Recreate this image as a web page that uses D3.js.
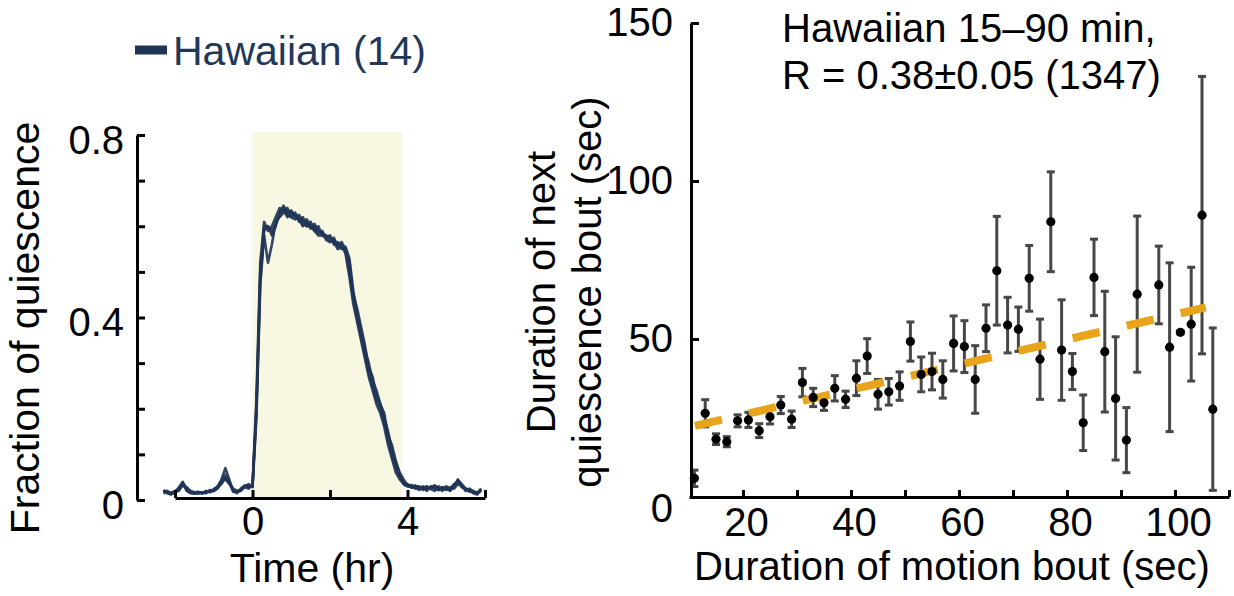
<!DOCTYPE html>
<html><head><meta charset="utf-8">
<script src="https://cdn.jsdelivr.net/npm/d3@7"></script>
<style>
body{margin:0;background:#fff;}
text{font-family:"Liberation Sans",Arial,Helvetica,sans-serif;}
</style>
</head><body>
<svg id="c" width="1234" height="596"></svg>
<script>
// ---------- Left panel data ----------
const timeHr = [-2.3,-2.2,-2.1,-2.0,-1.9,-1.8,-1.7,-1.6,-1.5,-1.4,-1.3,-1.2,-1.1,-1.0,-0.9,-0.8,-0.7,-0.6,-0.5,-0.4,-0.3,-0.2,-0.1,
 0.0,0.1,0.2,0.3,0.4,0.5,0.6,0.7,0.8,0.9,1.0,1.1,1.2,1.3,1.4,1.5,1.6,1.7,1.8,1.9,2.0,2.1,2.2,2.3,2.4,2.5,2.6,2.7,2.8,2.9,
 3.0,3.1,3.2,3.3,3.4,3.5,3.6,3.7,3.8,3.9,4.0,4.1,4.2,4.3,4.4,4.5,4.6,4.7,4.8,4.9,5.0,5.1,5.2,5.3,5.4,5.5,5.6,5.7,5.8,5.9];
const traceA = [0.02,0.015,0.012,0.018,0.025,0.038,0.022,0.015,0.014,0.016,0.015,0.018,0.02,0.022,0.03,0.045,0.07,0.045,0.02,0.015,0.025,0.032,0.028,
 0.03,0.2,0.5,0.6,0.6,0.58,0.6,0.63,0.645,0.63,
 0.635,0.62,0.625,0.61,0.615,0.6,0.605,0.59,0.585,0.58,
 0.575,0.57,0.56,0.565,0.55,0.5,0.44,0.4,0.36,0.32,
 0.28,0.25,0.22,0.2,0.17,0.13,0.1,0.07,0.05,0.04,
 0.035,0.03,0.025,0.028,0.022,0.025,0.03,0.025,0.022,0.028,
 0.025,0.02,0.03,0.042,0.03,0.022,0.02,0.015,0.012,0.025];
const traceB = [0.018,0.02,0.014,0.016,0.022,0.032,0.025,0.018,0.016,0.014,0.017,0.016,0.019,0.024,0.028,0.035,0.05,0.038,0.022,0.018,0.02,0.03,0.035,
 0.028,0.18,0.47,0.58,0.52,0.56,0.61,0.62,0.63,0.64,
 0.62,0.63,0.61,0.62,0.6,0.61,0.59,0.6,0.58,0.575,
 0.58,0.56,0.565,0.55,0.555,0.53,0.46,0.41,0.37,0.33,
 0.3,0.26,0.24,0.21,0.18,0.15,0.11,0.08,0.055,0.035,
 0.03,0.028,0.032,0.025,0.03,0.02,0.028,0.032,0.026,0.02,
 0.03,0.025,0.035,0.04,0.028,0.025,0.018,0.02,0.015,0.02];
const traceC = [0.015,0.018,0.016,0.02,0.02,0.035,0.028,0.02,0.017,0.018,0.014,0.02,0.017,0.02,0.025,0.04,0.045,0.035,0.025,0.02,0.022,0.028,0.025,
 0.032,0.22,0.52,0.61,0.59,0.6,0.62,0.64,0.635,0.62,
 0.63,0.625,0.615,0.6,0.61,0.595,0.6,0.585,0.59,0.57,
 0.565,0.575,0.555,0.56,0.54,0.49,0.43,0.39,0.35,0.31,
 0.27,0.24,0.21,0.19,0.16,0.12,0.09,0.06,0.045,0.035,
 0.03,0.033,0.028,0.022,0.027,0.03,0.024,0.02,0.03,0.025,
 0.022,0.028,0.025,0.035,0.032,0.02,0.025,0.018,0.014,0.022];
const traceD = [0.022,0.016,0.013,0.017,0.028,0.04,0.02,0.016,0.015,0.017,0.016,0.015,0.022,0.02,0.027,0.04,0.055,0.04,0.018,0.017,0.023,0.03,0.03,
 0.03,0.19,0.48,0.59,0.6,0.59,0.605,0.625,0.64,0.625,
 0.62,0.615,0.62,0.605,0.6,0.6,0.59,0.58,0.58,0.575,
 0.57,0.565,0.55,0.555,0.545,0.52,0.45,0.42,0.38,0.34,
 0.29,0.27,0.23,0.21,0.19,0.14,0.12,0.085,0.06,0.045,
 0.032,0.027,0.03,0.03,0.025,0.028,0.026,0.03,0.022,0.027,
 0.028,0.022,0.03,0.045,0.035,0.025,0.022,0.017,0.016,0.024];
const lightPeriodHr = [0, 3.85];
const leftXTicks = [-2, 0, 2, 4, 6];
const leftXLabels = [0, 4];
const leftYTicks = [0, 0.1, 0.2, 0.3, 0.4, 0.5, 0.6, 0.7, 0.8];
const leftYLabels = [0, 0.4, 0.8];
const legendLabel = "Hawaiian (14)";

// ---------- Right panel data ----------
const motionSec = [11,13,15,17,19,21,23,25,27,29,31,33,35,37,39,41,43,45,47,49,51,53,55,57,59,61,63,65,67,69,71,73,75,77,79,81,83,85,87,89,91,93,97,99,101,103,105,107];
const quiescenceSec = [5.9,26.5,18.3,17.5,24.1,24.4,21.0,25.4,29.1,24.6,36.2,31.5,29.8,34.4,30.9,37.6,44.6,32.5,33.3,35.1,49.2,38.8,39.7,37.2,48.6,47.6,37.2,53.4,71.6,54.4,53.1,69.2,43.6,87.1,46.5,39.7,23.5,69.5,46.0,31.2,18.0,64.2,67.1,47.4,52.1,54.7,89.2,27.8];
const semSec = [2.6,4.3,1.7,1.6,1.9,2.4,2.2,2.3,2.7,2.6,4.5,2.9,2.4,4.0,2.6,5.5,5.5,4.7,4.2,4.5,6.2,5.5,5.8,5.9,8.7,8.2,10.7,7.4,17.2,8.8,7.0,10.4,12.7,15.8,15.9,5.7,8.8,12.1,19.1,19.5,10.3,24.7,12.3,26.7,0.5,18.0,43.9,25.7];
const fitX = [11.1, 105.7];
const fitY = [22.5, 60.0];
const rightXTicks = [20,30,40,50,60,70,80,90,100,110];
const rightXLabels = [20,40,60,80,100];
const rightYTicks = [0,50,100,150];
const annotation = ["Hawaiian 15\u201390 min,", "R = 0.38\u00b10.05 (1347)"];

// ---------- Drawing ----------
const svg = d3.select("#c");
const navy = "#1f3456";
const FS = 40;

// Left panel scales
const xL = d3.scaleLinear().domain([-2, 6]).range([175, 485]);
const yL = d3.scaleLinear().domain([0, 0.8]).range([500, 135]);

// light period shading
svg.append("rect")
  .attr("x", xL(lightPeriodHr[0])).attr("width", xL(lightPeriodHr[1]) - xL(lightPeriodHr[0]))
  .attr("y", yL(0.8) - 3).attr("height", yL(0) - yL(0.8) + 1)
  .attr("fill", "#f8f7e2");

// traces
const lineL = d3.line().x((d, i) => xL(timeHr[i])).y(d => yL(d));
[traceA, traceB, traceC, traceD].forEach(tr => {
  svg.append("path").datum(tr).attr("d", lineL)
    .attr("fill", "none").attr("stroke", navy).attr("stroke-width", 2.6)
    .attr("stroke-linejoin", "round").attr("opacity", 0.92);
});

// left axes
const gLy = svg.append("g").attr("transform", "translate(137,0)")
  .call(d3.axisLeft(yL).tickValues(leftYTicks).tickSizeInner(-8).tickSizeOuter(0).tickPadding(13)
    .tickFormat(d => leftYLabels.some(v => Math.abs(v - d) < 1e-9) ? d3.format("~g")(d) : ""));
const gLx = svg.append("g").attr("transform", "translate(0,498)")
  .call(d3.axisBottom(xL).tickValues(leftXTicks).tickSizeInner(-8).tickSizeOuter(0).tickPadding(9)
    .tickFormat(d => leftXLabels.includes(d) ? d : ""));
[gLy, gLx].forEach(g => {
  g.select(".domain").attr("stroke", "#000").attr("stroke-width", 3);
  g.selectAll(".tick line").attr("stroke", "#000").attr("stroke-width", 3);
  g.selectAll(".tick text").attr("font-size", FS).attr("fill", "#000")
    .attr("font-family", "Liberation Sans, Arial, sans-serif");
});
gLy.selectAll(".tick text").attr("dy", "0.45em");

// left labels
svg.append("text").attr("transform", "translate(39,328) rotate(-90)")
  .attr("text-anchor", "middle").attr("font-size", 41).text("Fraction of quiescence");
svg.append("text").attr("x", 312).attr("y", 582).attr("text-anchor", "middle")
  .attr("font-size", 41).text("Time (hr)");

// legend
svg.append("line").attr("x1", 135).attr("x2", 167).attr("y1", 50).attr("y2", 50)
  .attr("stroke", navy).attr("stroke-width", 9);
svg.append("text").attr("x", 173).attr("y", 65).attr("font-size", 41).attr("fill", "#22385a")
  .text(legendLabel);

// Right panel scales
const xR = d3.scaleLinear().domain([10, 110]).range([689, 1229]);
const yR = d3.scaleLinear().domain([0, 150]).range([497, 23]);

// error bars
const eb = svg.append("g");
motionSec.forEach((x, i) => {
  const y = quiescenceSec[i], e = semSec[i];
  const cx = xR(x);
  eb.append("line").attr("x1", cx).attr("x2", cx).attr("y1", yR(y - e)).attr("y2", yR(y + e))
    .attr("stroke", "#474747").attr("stroke-width", 3);
  [y - e, y + e].forEach(v => {
    eb.append("line").attr("x1", cx - 4).attr("x2", cx + 4).attr("y1", yR(v)).attr("y2", yR(v))
      .attr("stroke", "#474747").attr("stroke-width", 3);
  });
});

// fit line (dashed)
svg.append("line")
  .attr("x1", xR(fitX[0])).attr("y1", yR(fitY[0]))
  .attr("x2", xR(fitX[1])).attr("y2", yR(fitY[1]))
  .attr("stroke", "#e8a51b").attr("stroke-width", 8)
  .attr("stroke-dasharray", "27.7 27.7");

// points
svg.append("g").selectAll("circle").data(motionSec).join("circle")
  .attr("cx", d => xR(d)).attr("cy", (d, i) => yR(quiescenceSec[i])).attr("r", 4.6)
  .attr("fill", "#000");

// right axes
const gRy = svg.append("g").attr("transform", "translate(691,0)")
  .call(d3.axisLeft(yR).tickValues(rightYTicks).tickSizeInner(-8).tickSizeOuter(0).tickPadding(18));
const gRx = svg.append("g").attr("transform", "translate(0,497)")
  .call(d3.axisBottom(xR).tickValues(rightXTicks).tickSizeInner(-7).tickSizeOuter(0).tickPadding(11)
    .tickFormat(d => rightXLabels.includes(d) ? d : ""));
[gRy, gRx].forEach(g => {
  g.select(".domain").attr("stroke", "#000").attr("stroke-width", 3);
  g.selectAll(".tick line").attr("stroke", "#000").attr("stroke-width", 3);
  g.selectAll(".tick text").attr("font-size", FS).attr("fill", "#000")
    .attr("font-family", "Liberation Sans, Arial, sans-serif");
});
gRy.selectAll(".tick text").filter(d => d === 0).attr("dy", "0.6em");
gRx.selectAll(".tick text").attr("dx", 3);

// right labels
const yl = svg.append("text").attr("transform", "translate(555,292) rotate(-90)")
  .attr("text-anchor", "middle").attr("font-size", 40);
yl.append("tspan").attr("x", 0).attr("dy", 0).text("Duration of next");
yl.append("tspan").attr("x", 0).attr("dy", 46).text("quiescence bout (sec)");
svg.append("text").attr("x", 952).attr("y", 580).attr("text-anchor", "middle")
  .attr("font-size", 40).text("Duration of motion bout (sec)");

// annotation
annotation.forEach((s, i) => {
  svg.append("text").attr("x", 782).attr("y", 42 + i * 47).attr("font-size", 40).text(s);
});
</script>
</body></html>
